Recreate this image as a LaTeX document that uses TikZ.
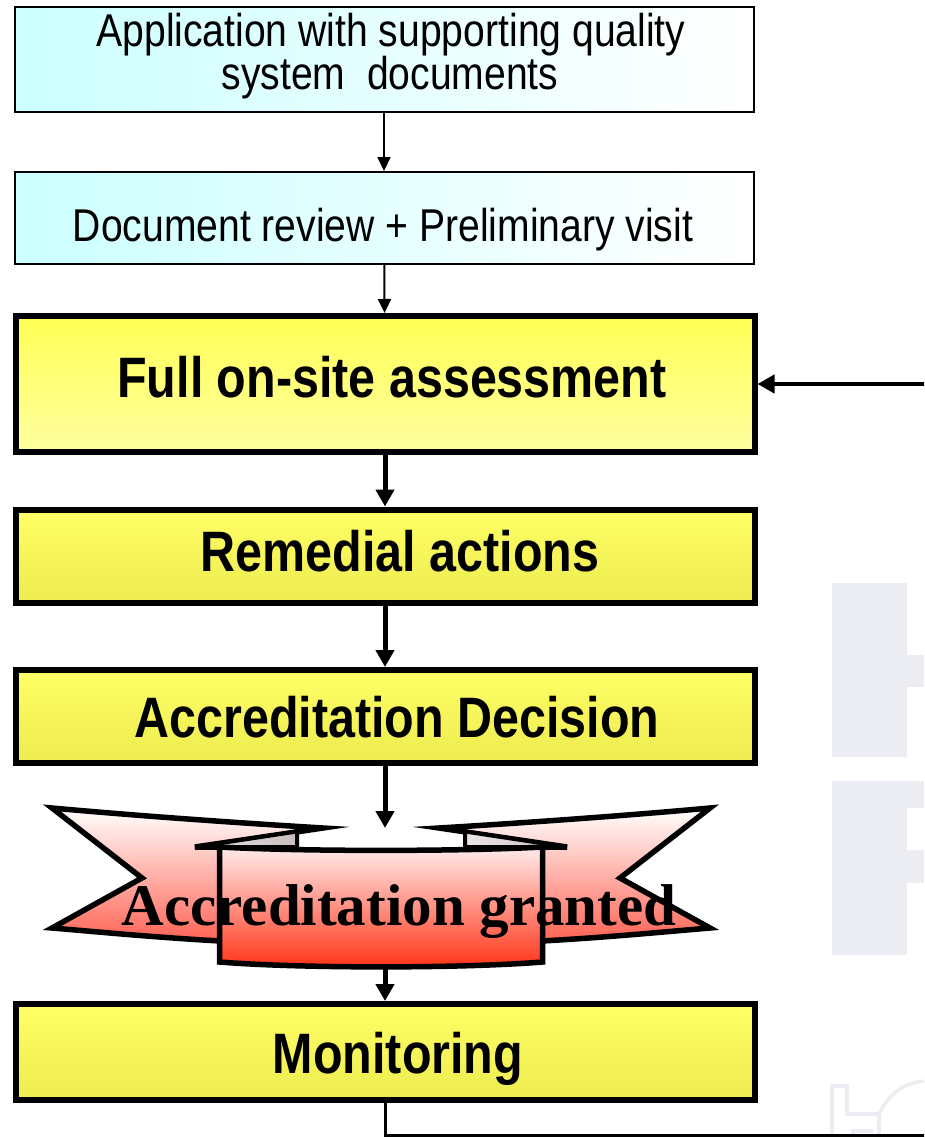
\documentclass[tikz,border=0pt]{standalone}
\usepackage{fontspec}
\setmainfont{Liberation Sans}
\newfontfamily\narrowfont[FakeStretch=0.85]{Liberation Sans}
\newfontfamily\ribfont{Liberation Serif}
\usetikzlibrary{arrows.meta}
\definecolor{cyanlt}{RGB}{204,255,255}
\definecolor{yelA}{RGB}{255,255,85}
\definecolor{yelB}{RGB}{255,255,160}
\definecolor{yelC}{RGB}{255,255,102}
\definecolor{yelD}{RGB}{236,236,80}
\definecolor{ribred}{RGB}{255,50,20}
\definecolor{ribsalmon}{RGB}{255,100,85}
\definecolor{ribpink}{RGB}{255,236,236}
\definecolor{foldgray}{RGB}{200,190,190}
\definecolor{foldlight}{RGB}{235,230,230}
\definecolor{wmgray}{RGB}{236,236,243}
\tikzset{
  lightbox/.style={draw=black, line width=2pt, left color=cyanlt, right color=white,
    inner sep=0pt, minimum width=739pt},
  yelbox/.style={draw=black, line width=6pt, top color=yelC, bottom color=yelD,
    inner sep=0pt, minimum width=739pt},
  firstyel/.style={yelbox, top color=yelA, bottom color=yelB},
  regtext/.style={font=\narrowfont\fontsize{46}{43}\selectfont, anchor=base, inner sep=0pt},
  boldtext/.style={font=\narrowfont\bfseries\fontsize{57}{60}\selectfont, anchor=base, inner sep=0pt},
  ribtext/.style={font=\ribfont\bfseries\fontsize{59}{62}\selectfont, anchor=base, inner sep=0pt},
  thinarrow/.style={-{Triangle[length=14pt,width=13pt]}, line width=2pt},
  thickarrow/.style={-{Triangle[length=17pt,width=18pt]}, line width=5pt},
  ribtail/.style={draw=black, line width=5.5pt, line join=miter, top color=white, bottom color=ribsalmon},
  ribpanel/.style={draw=black, line width=5.5pt, line join=miter, top color=ribpink, bottom color=ribred},
  ribfold/.style={draw=black, line width=4pt, line join=miter, left color=foldlight, right color=foldgray},
  wmline/.style={draw=wmgray, line width=3.5pt},
}
\begin{document}
\begin{tikzpicture}[x=1pt, y=-1pt]
\useasboundingbox (0,0) rectangle (924,1137);
\clip (0,0) rectangle (924,1137);
\fill[white] (0,0) rectangle (924,1137);

% watermark shapes
\fill[wmgray] (832,583) rectangle (907,757);
\fill[wmgray] (907,655) rectangle (924,687);
\fill[wmgray] (832,781) rectangle (907,955);
\fill[wmgray] (907,781) rectangle (924,808);
\fill[wmgray] (907,850) rectangle (924,883);
\draw[wmline] (832,1137) -- (832,1086) -- (847,1086) -- (847,1114) -- (879,1114) -- (879,1137);
\draw[wmline] (879,1114) .. controls (890,1092) and (905,1083) .. (924,1081);
\draw[wmline] (853,1137) -- (853,1131) -- (873,1131);

% boxes
\node[lightbox, minimum height=105pt] (b1) at (384,59.5) {};
\node[lightbox, minimum height=92pt] (b2) at (384,218) {};
\node[firstyel, minimum height=136pt] (b3) at (385,384) {};
\node[yelbox, minimum height=93pt] (b4) at (385,556) {};
\node[yelbox, minimum height=93pt] (b5) at (385,716.5) {};
\node[yelbox, minimum height=96pt] (b6) at (385,1052) {};

% texts
\node[regtext] (t1a) at (391,47) {Application with supporting quality};
\node[regtext] (t1b) at (390,90) {system\ \ documents};
\node[regtext] (t2) at (383,241) {Document review + Preliminary visit};
\node[boldtext] (t3) at (392,397) {Full on-site assessment};
\node[boldtext] (t4) at (400,571) {Remedial actions};
\node[boldtext] (t5) at (397,737) {Accreditation Decision};
\node[boldtext] (t6) at (398,1073) {Monitoring};

% ribbon
\filldraw[ribtail] (52,808) .. controls (140,816) and (240,823) .. (323,828) -- (195,847) -- (220,847)
  -- (220,941) .. controls (150,937) and (100,932) .. (52,928) -- (142,878) -- cycle;
\filldraw[ribtail] (710,808) .. controls (622,816) and (522,823) .. (439,828) -- (567,847) -- (542,847)
  -- (542,941) .. controls (612,937) and (662,932) .. (710,928) -- (620,878) -- cycle;
\filldraw[ribfold] (297,831.5) -- (297,847) -- (195,847) -- cycle;
\filldraw[ribfold] (465,831.5) -- (465,847) -- (567,847) -- cycle;
\draw[line width=4pt] (297,826) -- (297,847);
\draw[line width=4pt] (465,826) -- (465,847);
\filldraw[ribpanel] (219.5,847) .. controls (300,851.5) and (462,851.5) .. (542.5,847)
  -- (542.5,962) .. controls (462,968.5) and (300,968.5) .. (219.5,962) -- cycle;
\node[ribtext] (rib) at (399,925) {Accreditation granted};
\coordinate (ribin) at (385,828);
\coordinate (ribout) at (385,966);

% connectors
\draw[thinarrow] (b1) -- (b2);
\draw[thinarrow] (b2) -- (b3);
\draw[thickarrow] (b3) -- (b4);
\draw[thickarrow] (b4) -- (b5);
\draw[thickarrow] (b5.south) -- (ribin);
\draw[thickarrow] (ribout) -- (b6.north);
\coordinate (fb) at (945,1135);
\draw[line width=3pt] (b6.south) -- (b6.south |- fb) -- (fb);
\draw[-{Triangle[length=17pt,width=18pt]}, line width=4.5pt] (fb) |- (b3.east);
\end{tikzpicture}
\end{document}
